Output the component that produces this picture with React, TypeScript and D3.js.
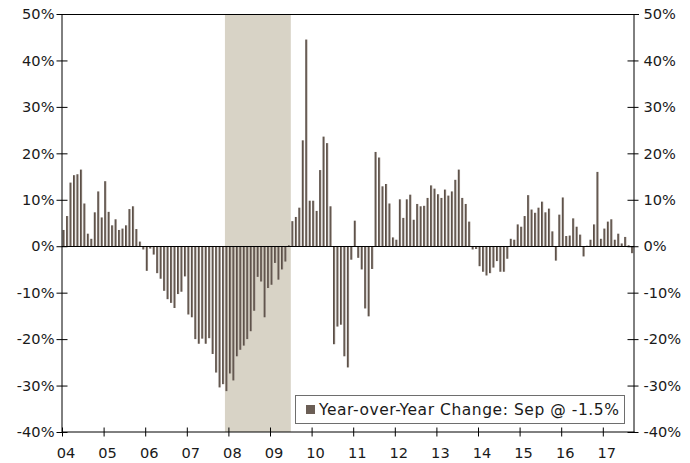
import { useRef, useEffect } from 'react';
import * as d3 from 'd3';

// year-over-year change, %, monthly Jan 2004 - Sep 2017
const yoy2004 = [3.5, 6.5, 13.7, 15.3, 15.5, 16.5, 9.2, 2.7, 1.6, 7.3, 11.8, 6.2];
const yoy2005 = [14.0, 7.4, 4.5, 5.8, 3.5, 3.8, 4.5, 8.0, 8.6, 3.7, 1.0, -0.7];
const yoy2006 = [-5.3, -0.5, -1.8, -5.8, -7.0, -9.6, -11.4, -12.2, -13.3, -10.3, -9.8, -6.5];
const yoy2007 = [-14.7, -15.3, -20.0, -21.0, -19.9, -21.0, -19.8, -23.2, -27.2, -30.4, -29.7, -31.2];
const yoy2008 = [-27.4, -28.9, -23.7, -22.3, -21.4, -20.0, -18.3, -13.9, -6.6, -7.6, -15.3, -9.0];
const yoy2009 = [-8.3, -3.6, -7.2, -5.0, -3.3, 0.2, 5.4, 6.3, 8.3, 22.8, 44.5, 9.8];
const yoy2010 = [9.8, 7.6, 16.4, 23.6, 22.2, 8.6, -21.1, -17.3, -16.9, -23.7, -26.1, -2.9];
const yoy2011 = [5.5, -2.5, -5.0, -13.4, -15.1, -4.9, 20.3, 19.1, 12.9, 13.4, 9.2, 1.9];
const yoy2012 = [1.4, 10.1, 6.1, 10.1, 11.1, 5.7, 9.1, 8.6, 8.7, 10.4, 13.1, 12.4];
const yoy2013 = [11.2, 10.4, 12.2, 10.9, 11.8, 14.3, 16.5, 10.4, 9.1, 5.3, -0.7, -0.6];
const yoy2014 = [-4.3, -5.5, -6.3, -5.8, -4.6, -3.2, -5.5, -5.5, -2.7, 1.6, 1.4, 4.7];
const yoy2015 = [4.2, 6.5, 11.0, 7.9, 7.2, 8.3, 9.6, 7.3, 8.1, 3.2, -3.1, 6.8];
const yoy2016 = [10.5, 2.2, 2.3, 6.0, 4.2, 2.5, -2.2, 0.1, 1.4, 4.7, 16.0, 1.6];
const yoy2017 = [3.8, 5.3, 5.8, 1.4, 2.7, 0.6, 2.0, 0.2, -1.5];

const yearLabels = ['04', '05', '06', '07', '08', '09', '10', '11', '12', '13', '14', '15', '16', '17'];
const yTicks = [-40, -30, -20, -10, 0, 10, 20, 30, 40, 50];
// recession: Dec 2007 through Jun 2009 (month index from Jan 2004)
const recession = [47, 66];
const legendText = 'Year-over-Year Change: Sep @ -1.5%';

const values = [
  ...yoy2004, ...yoy2005, ...yoy2006, ...yoy2007, ...yoy2008, ...yoy2009, ...yoy2010,
  ...yoy2011, ...yoy2012, ...yoy2013, ...yoy2014, ...yoy2015, ...yoy2016, ...yoy2017,
];
const nMonths = 165; // axis runs to Oct 2017

const width = 690;
const height = 463;
const left = 62;
const right = 634;
const top = 14;
const bottom = 432;
const font = '"DejaVu Sans", Verdana, sans-serif';

const App = () => {
  const axesRef = useRef<SVGGElement>(null);

  const xBand = d3.scaleBand<number>()
    .domain(d3.range(nMonths))
    .range([left, right])
    .paddingInner(0.35)
    .paddingOuter(0.175);
  const xMonth = d3.scaleLinear().domain([0, nMonths]).range([left, right]);
  const y = d3.scaleLinear().domain([-40, 50]).range([bottom, top]);

  useEffect(() => {
    const g = d3.select(axesRef.current);
    g.selectAll('*').remove();

    const styleAxis = (sel: any) => {
      sel.selectAll('.domain').attr('stroke', '#000');
      sel.selectAll('.tick line').attr('stroke', '#000');
      sel.selectAll('.tick text')
        .attr('fill', '#1a1a1a')
        .attr('font-family', font)
        .attr('font-size', 14.6);
    };

    // LEFT AXIS
    g.append('g')
      .attr('transform', `translate(${left - 0.5},0)`)
      .call(d3.axisLeft(y).tickValues(yTicks).tickSize(0).tickPadding(7).tickFormat(d => `${d}%`))
      .call(styleAxis)
      .call(s => s.selectAll('.tick line').attr('x1', -5).attr('x2', 6));

    // RIGHT AXIS
    g.append('g')
      .attr('transform', `translate(${right - 0.5},0)`)
      .call(d3.axisRight(y).tickValues(yTicks).tickSize(0).tickPadding(10).tickFormat(d => `${d}%`))
      .call(styleAxis)
      .call(s => s.selectAll('.tick line').attr('x1', -6).attr('x2', 5));

    // BOTTOM AXIS
    g.append('g')
      .attr('transform', `translate(0,${bottom - 0.5})`)
      .call(d3.axisBottom(xMonth)
        .tickValues(yearLabels.map((_, i) => i * 12))
        .tickSize(0)
        .tickPadding(16)
        .tickFormat((_, i) => yearLabels[i]))
      .call(styleAxis)
      .call(s => s.selectAll('.tick line').attr('y1', -4).attr('y2', 5))
      .call(s => s.selectAll('.tick text').attr('x', 3.5));
  }, []);

  return (
    <svg
      width={width}
      height={height}
      style={{ position: 'absolute', left: 0, top: 0, background: '#fff' }}
    >
      <defs>
        <linearGradient id="barGrad" x1="0" x2="1" y1="0" y2="0">
          <stop offset="0" stopColor="#4f433b" />
          <stop offset="0.55" stopColor="#6a5e56" />
          <stop offset="1" stopColor="#b3aaa3" />
        </linearGradient>
      </defs>

      {/* recession shading */}
      <rect
        x={xMonth(recession[0])}
        y={top}
        width={xMonth(recession[1]) - xMonth(recession[0])}
        height={bottom - top}
        fill="#d8d3c6"
      />

      {/* bars */}
      <g className="bars">
        {values.map((v, i) => (
          <rect
            key={i}
            x={xBand(i)}
            y={y(Math.max(0, v))}
            width={xBand.bandwidth()}
            height={Math.abs(y(v) - y(0))}
            fill="url(#barGrad)"
          />
        ))}
      </g>

      {/* top frame + zero line */}
      <line x1={left - 5} x2={right + 5} y1={top + 0.5} y2={top + 0.5} stroke="#000" />
      <line x1={left} x2={right} y1={Math.round(y(0)) + 0.5} y2={Math.round(y(0)) + 0.5} stroke="#000" />

      <g ref={axesRef} />

      {/* legend */}
      <g className="legend">
        <rect x={295.5} y={395.5} width={329} height={28} fill="#fff" stroke="#6e6e6e" />
        <rect x={306} y={405} width={9} height={9} fill="#6b5e55" />
        <text
          x={319}
          y={415}
          fontFamily={font}
          fontSize={15.5}
          fill="#1a1a1a"
          textLength={300}
          lengthAdjust="spacing"
        >
          {legendText}
        </text>
      </g>
    </svg>
  );
};

export default App;
